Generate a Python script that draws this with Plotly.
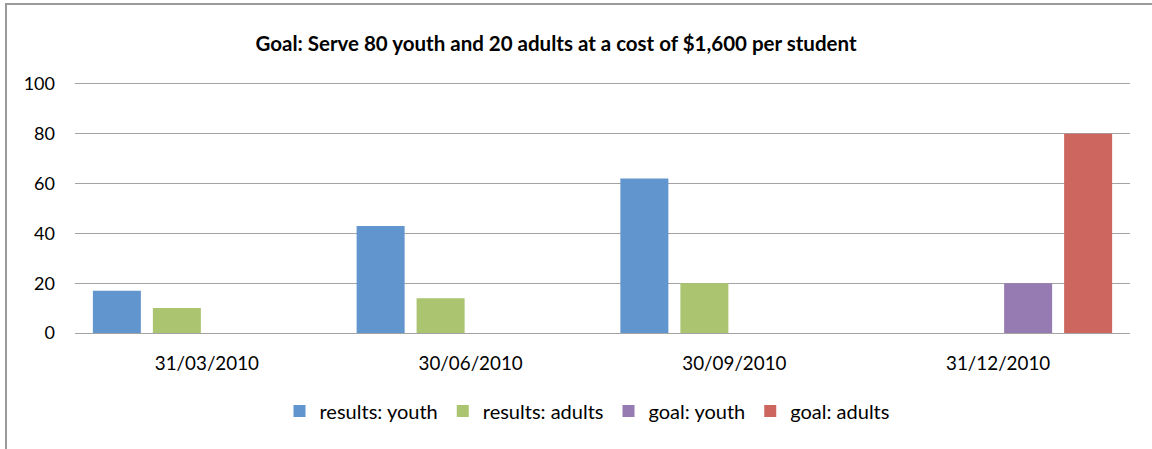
import plotly.graph_objects as go

categories = ["31/03/2010", "30/06/2010", "30/09/2010", "31/12/2010"]
results_youth = [17, 43, 62, None]
results_adults = [10, 14, 20, None]
goal_youth = [None, None, None, 20]
goal_adults = [None, None, None, 80]
series_names = ["results: youth", "results: adults", "goal: youth", "goal: adults"]
colors = ["#6195CD", "#AAC46F", "#957BB1", "#CD665F"]
title = "Goal: Serve 80 youth and 20 adults at a cost of $1,600 per student"

W, H = 1152, 449
L, R, T, B = 75, 22, 81, 116
pw, ph = W - L - R, H - T - B

fig = go.Figure()
for name, vals, c in zip(series_names, [results_youth, results_adults, goal_youth, goal_adults], colors):
    fig.add_trace(go.Bar(x=categories, y=vals, name=name, marker=dict(color=c, line=dict(width=0))))

def px_x(p):
    return (p - L) / pw

def px_y(p):
    return (H - B - p) / ph

fig.update_layout(
    width=W, height=H,
    margin=dict(l=L, r=R, t=T, b=B, autoexpand=False),
    paper_bgcolor="white", plot_bgcolor="white",
    font=dict(family="Lato", size=18, color="#000000"),
    barmode="group", bargap=0.09, bargroupgap=0.2,
    title=dict(text="<b>" + title + "</b>", x=556 / W, xanchor="center", y=1 - 44 / H, yanchor="middle",
               font=dict(family="Lato", size=20.5, color="#000000")),
    xaxis=dict(showgrid=False, showline=False, ticks="", tickfont=dict(size=18.8)),
    yaxis=dict(range=[0, 101.2], tickvals=[0, 20, 40, 60, 80, 100], showgrid=True, gridcolor="#A3A3A3", gridwidth=1.4,
               zeroline=True, zerolinecolor="#A3A3A3", zerolinewidth=1.4, ticks="", ticklen=0,
               tickfont=dict(size=18)),
    legend=dict(orientation="h", x=px_x(587), xanchor="center", y=px_y(411), yanchor="middle",
                font=dict(size=20), bgcolor="rgba(0,0,0,0)", itemwidth=30),
    showlegend=True,
)
fig.update_yaxes(ticklabelstandoff=19)
fig.update_xaxes(ticklabelstandoff=17)

fig.add_shape(type="rect", xref="paper", yref="paper",
              x0=px_x(6), x1=px_x(1170), y0=px_y(470), y1=px_y(4),
              line=dict(color="#9A9A9A", width=2), fillcolor="rgba(0,0,0,0)", layer="below")

fig.write_html("out.html", config={"displayModeBar": False},
               post_script="document.body.style.margin='0';document.body.style.padding='0';")
